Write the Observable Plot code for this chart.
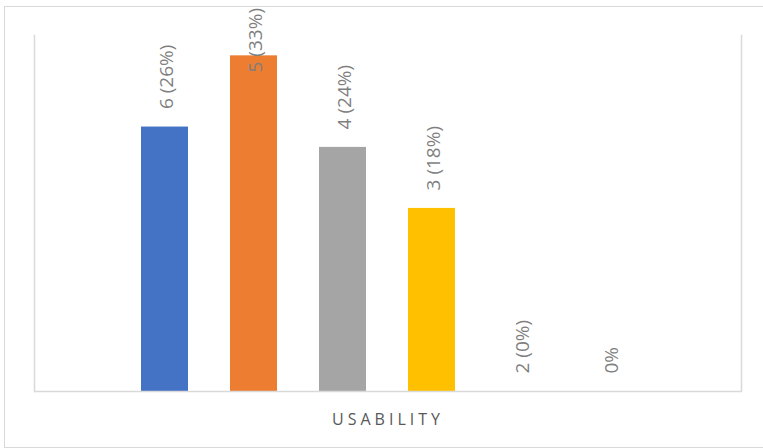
<!DOCTYPE html>
<html>
<head>
<meta charset="utf-8">
<script src="https://cdn.jsdelivr.net/npm/d3@7"></script>
<script src="https://cdn.jsdelivr.net/npm/@observablehq/plot@0.6"></script>
<style>
  html, body { margin: 0; padding: 0; background: #fff; }
  #chart { width: 763px; height: 448px; overflow: hidden; }
</style>
</head>
<body>
<div id="chart"></div>
<script>
const series = ["6", "5", "4", "3", "2", "1"];
const values = [26, 33, 24, 18, 0, 0];
const labels = ["6 (26%)", "5 (33%)", "4 (24%)", "3 (18%)", "2 (0%)", "0%"];
const colors = ["#4472C4", "#ED7D31", "#A5A5A5", "#FFC000", "#5B9BD5", "#70AD47"];
const categoryTitle = "USABILITY";
const yMax = 35;
const labelCeiling = 29.6; // labels are kept inside the chart area

const data = series.map((s, i) => ({series: s, value: values[i], label: labels[i]}));

const frameOptions = {stroke: "#d9d9d9", strokeWidth: 1.5};
let edgeMarks;
try {
  edgeMarks = [Plot.frame({...frameOptions, anchor: "left"}), Plot.frame({...frameOptions, anchor: "right"})];
} catch (e) {
  edgeMarks = [];
}

const chart = Plot.plot({
  width: 763,
  height: 448,
  marginLeft: 34,
  marginRight: 22,
  marginTop: 35,
  marginBottom: 57,
  style: {fontFamily: "'Open Sans', sans-serif", background: "#fff", overflow: "visible"},
  x: {type: "band", domain: series, paddingInner: 0.4667, paddingOuter: 1.1667, axis: null},
  y: {domain: [0, yMax], axis: null},
  color: {domain: series, range: colors},
  marks: [
    Plot.frame({stroke: "#d9d9d9", insetLeft: -30, insetTop: -29, insetRight: -40, insetBottom: -56}),
    ...edgeMarks,
    Plot.barY(data, {x: "series", y: "value", fill: "series"}),
    Plot.ruleY([0], {stroke: "#d9d9d9", strokeWidth: 1.5}),
    Plot.text(data, {
      x: "series",
      y: d => Math.min(d.value, labelCeiling),
      text: "label",
      rotate: -90,
      textAnchor: "start",
      dy: -18,
      dx: 2,
      fill: "#7f7f7f",
      fontSize: 19
    }),
    Plot.text([categoryTitle], {
      frameAnchor: "bottom",
      dy: 28,
      text: d => d,
      fill: "#595959",
      fontSize: 16,
      lineAnchor: "middle"
    })
  ]
});
d3.select(chart).selectAll("text").filter(function() { return d3.select(this).text() === categoryTitle; })
  .style("letter-spacing", "4px");
document.getElementById("chart").appendChild(chart);
</script>
</body>
</html>
